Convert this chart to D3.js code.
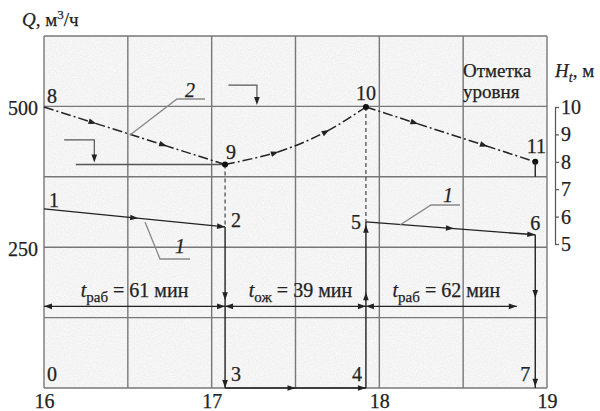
<!DOCTYPE html>
<html>
<head>
<meta charset="utf-8">
<script src="https://cdn.jsdelivr.net/npm/d3@7"></script>
<style>
  body { margin: 0; background: #fff; }
  svg text { font-family: "Liberation Serif", "Times New Roman", "DejaVu Serif", serif !important; font-size: 20px; fill: #222; stroke: #222; stroke-width: 0.25; }
  .grid line { stroke: #777; stroke-width: 1.4; }
  .axis path, .axis line { stroke: #555; stroke-width: 1.2; }
  .axis text { font-size: 20px; fill: #222; }
</style>
</head>
<body>
<svg id="chart" width="600" height="411" font-family="Liberation Serif, serif"></svg>
<script>
// tick labels
var xTicks = [16, 17, 18, 19];
var qTicks = [250, 500];
var hTicks = [5, 6, 7, 8, 9, 10];

// pump working periods, flow Q (m3/h) -- line 1
var work1Time = [16, 17.08];
var work1Q = [318, 286];
var work2Time = [17.92, 18.93];
var work2Q = [295, 272];

// level in the tank H (m) -- line 2
var levelTime = [16, 17.08, 17.4, 17.68, 17.92, 18.93];
var levelH = [10, 7.9, 8.37, 9.09, 10, 8.0];

// periods under the chart
var periodSub = ["раб", "ож", "раб"];
var periodMin = [61, 39, 62];
var periodFrom = [16, 17.08, 17.92];
var periodTo = [17.08, 17.92, 18.82];

// set the dimensions
var svg = d3.select("svg#chart");
var x = d3.scaleLinear().domain([16, 19]).range([44, 547]);
var yQ = d3.scaleLinear().domain([0, 625]).range([388, 36]);
var yH = d3.scaleLinear().domain([5, 10]).range([244, 107]);

// grainy paper background
var defs = svg.append("defs");
var f = defs.append("filter").attr("id", "grain")
  .attr("x", 0).attr("y", 0).attr("width", 1).attr("height", 1);
f.append("feTurbulence").attr("type", "fractalNoise")
  .attr("baseFrequency", 0.85).attr("numOctaves", 2).attr("seed", 4);
f.append("feColorMatrix").attr("type", "saturate").attr("values", 0);
var ct = f.append("feComponentTransfer");
["feFuncR", "feFuncG", "feFuncB"].forEach(function (n) {
  ct.append(n).attr("type", "linear").attr("slope", 0.22).attr("intercept", 0.8);
});
ct.append("feFuncA").attr("type", "linear").attr("slope", 0).attr("intercept", 1);

svg.append("rect")
  .attr("x", x(16)).attr("y", yQ(625))
  .attr("width", x(19) - x(16)).attr("height", yQ(0) - yQ(625))
  .attr("fill", "#e6e6e6");
svg.append("rect")
  .attr("x", x(16)).attr("y", yQ(625))
  .attr("width", x(19) - x(16)).attr("height", yQ(0) - yQ(625))
  .attr("filter", "url(#grain)");

// grid
var grid = svg.append("g").attr("class", "grid");
grid.selectAll(".v").data(d3.range(16, 19.01, 0.5)).enter().append("line")
  .attr("x1", function (d) { return x(d); }).attr("x2", function (d) { return x(d); })
  .attr("y1", yQ(0)).attr("y2", yQ(625));
grid.selectAll(".h").data(d3.range(0, 626, 125)).enter().append("line")
  .attr("x1", x(16)).attr("x2", x(19))
  .attr("y1", function (d) { return yQ(d); }).attr("y2", function (d) { return yQ(d); });

// axes
var ax = svg.append("g").attr("class", "axis")
  .attr("transform", "translate(0," + yQ(0) + ")")
  .call(d3.axisBottom(x).tickValues(xTicks).tickSize(0).tickPadding(6).tickFormat(d3.format("d")));
ax.select(".domain").remove();

var ay = svg.append("g").attr("class", "axis")
  .attr("transform", "translate(" + x(16) + ",0)")
  .call(d3.axisLeft(yQ).tickValues(qTicks).tickSize(0).tickPadding(6));
ay.select(".domain").remove();
ay.selectAll("text").attr("dy", "0.4em");

svg.append("g").attr("class", "axis")
  .attr("transform", "translate(555,0)")
  .call(d3.axisRight(yH).tickValues(hTicks).tickSize(4).tickSizeOuter(4).tickPadding(2)
    .tickFormat(d3.format("d")));

svg.selectAll(".axis").attr("font-family", null).attr("font-size", null);

// axis titles
var qt = svg.append("text").attr("x", 22).attr("y", 26).style("font-size", "19px");
qt.append("tspan").style("font-style", "italic").text("Q");
qt.append("tspan").text(", м");
qt.append("tspan").attr("dy", -7).style("font-size", "13px").text("3");
qt.append("tspan").attr("dy", 7).text("/ч");

var ht = svg.append("text").attr("x", 555).attr("y", 77).style("font-size", "19px");
ht.append("tspan").style("font-style", "italic").text("H");
ht.append("tspan").attr("dy", 5).style("font-style", "italic").style("font-size", "14px").text("t");
ht.append("tspan").attr("dy", -5).text(", м");

svg.append("text").attr("x", 463).attr("y", 77).style("font-size", "19px").text("Отметка");
svg.append("text").attr("x", 463).attr("y", 98).style("font-size", "19px").text("уровня");

// arrow head helper
function arrowHead(px, py, ang) {
  svg.append("path")
    .attr("d", "M0,0L-8,-2.8L-8,2.8Z")
    .attr("fill", "#222")
    .attr("transform", "translate(" + px + "," + py + ") rotate(" + ang + ")");
}
function arrowsOnPath(node, fracs) {
  var L = node.getTotalLength();
  fracs.forEach(function (fr) {
    var p = node.getPointAtLength(L * fr);
    var q = node.getPointAtLength(Math.max(0, L * fr - 2));
    arrowHead(p.x, p.y, Math.atan2(p.y - q.y, p.x - q.x) * 180 / Math.PI);
  });
}

// min / max level markers
svg.append("line")
  .attr("x1", x(16.19)).attr("x2", x(17.08))
  .attr("y1", yH(7.9)).attr("y2", yH(7.9))
  .attr("stroke", "#555").attr("stroke-width", 1.4);
svg.append("path")
  .attr("d", "M" + x(16.12) + "," + yH(8.8) + "H" + x(16.3) + "V" + (yH(7.9) - 5))
  .attr("fill", "none").attr("stroke", "#555").attr("stroke-width", 1.2);
arrowHead(x(16.3), yH(7.9) - 2, 90);
svg.append("path")
  .attr("d", "M" + x(17.1) + "," + yH(10.8) + "H" + x(17.27) + "V" + (yH(10) - 5))
  .attr("fill", "none").attr("stroke", "#555").attr("stroke-width", 1.2);
arrowHead(x(17.27), yH(10) - 2, 90);

// vertical connectors (dashed)
[[1, work1Q[1]], [4, work2Q[0]]].forEach(function (p) {
  svg.append("line")
    .attr("x1", x(levelTime[p[0]])).attr("x2", x(levelTime[p[0]]))
    .attr("y1", yH(levelH[p[0]])).attr("y2", yQ(p[1]))
    .attr("stroke", "#444").attr("stroke-width", 1.2).attr("stroke-dasharray", "4,3");
});

// solid verticals: 2-3, 4-5, 6-7 and bottom 3-4
function solidLine(x1, y1, x2, y2) {
  svg.append("line").attr("x1", x1).attr("y1", y1).attr("x2", x2).attr("y2", y2)
    .attr("stroke", "#222").attr("stroke-width", 1.4);
}
solidLine(x(work1Time[1]), yQ(work1Q[1]), x(work1Time[1]), yQ(0));
solidLine(x(work2Time[0]), yQ(0), x(work2Time[0]), yQ(work2Q[0]));
solidLine(x(work2Time[1]), yQ(work2Q[1]), x(work2Time[1]), yQ(0));
solidLine(x(work1Time[1]), yQ(0), x(work2Time[0]), yQ(0));
arrowHead(x(work1Time[1]), yQ(156), 90);
arrowHead(x(work1Time[1]), yQ(0), 90);
arrowHead(x(work2Time[0]), yQ(170), -90);
arrowHead(x(work2Time[0]), yQ(290), -90);
arrowHead(x(work2Time[1]), yQ(160), 90);
arrowHead(x(work2Time[1]), yQ(2), 90);
arrowHead(x(17.5), yQ(0), 0);
arrowHead(x(work2Time[0]), yQ(0), 0);

// line 1: flow
var qLine = d3.line()
  .x(function (d) { return x(d[0]); })
  .y(function (d) { return yQ(d[1]); });
[d3.zip(work1Time, work1Q), d3.zip(work2Time, work2Q)].forEach(function (seg) {
  var p = svg.append("path").attr("d", qLine(seg))
    .attr("fill", "none").attr("stroke", "#222").attr("stroke-width", 1.4);
  arrowsOnPath(p.node(), [0.52, 1]);
});

// line 2: level (dash-dot)
var hPts = d3.zip(levelTime, levelH);
var hLine = d3.line()
  .x(function (d) { return x(d[0]); })
  .y(function (d) { return yH(d[1]); });
var hSegs = [
  { pts: hPts.slice(0, 2), curve: d3.curveLinear, fr: [0.29, 0.68] },
  { pts: hPts.slice(1, 5), curve: d3.curveCatmullRom, fr: [0.36, 0.72] },
  { pts: hPts.slice(4, 6), curve: d3.curveLinear, fr: [0.31, 0.72] }
];
hSegs.forEach(function (s) {
  var p = svg.append("path").attr("d", hLine.curve(s.curve)(s.pts))
    .attr("fill", "none").attr("stroke", "#222").attr("stroke-width", 1.5)
    .attr("stroke-dasharray", "10,3,2,3");
  arrowsOnPath(p.node(), s.fr);
});
svg.selectAll(".dot").data([hPts[1], hPts[4], hPts[5]]).enter().append("circle")
  .attr("cx", function (d) { return x(d[0]); })
  .attr("cy", function (d) { return yH(d[1]); })
  .attr("r", 3).attr("fill", "#111");
// stub under point 11
solidLine(x(levelTime[5]), yH(levelH[5]), x(levelTime[5]), yQ(375));

// period dimension line
var dimY = yQ(145);
periodFrom.forEach(function (f0, i) {
  var x0 = x(f0), x1 = x(periodTo[i]);
  solidLine(x0, dimY, x1, dimY);
  arrowHead(x0, dimY, 180);
  arrowHead(x1, dimY, 0);
  var t = svg.append("text").attr("x", (x0 + x1) / 2 + (i ? 5 : 0)).attr("y", 297)
    .attr("text-anchor", "middle");
  t.append("tspan").style("font-style", "italic").text("t");
  t.append("tspan").attr("dy", 5).style("font-size", "15px").text(periodSub[i]);
  t.append("tspan").attr("dy", -5).text(" = " + periodMin[i] + " мин");
});

// leader callouts
function leader(pts, label, lx, ly) {
  svg.append("path").attr("d", d3.line()(pts))
    .attr("fill", "none").attr("stroke", "#888").attr("stroke-width", 1.3);
  svg.append("text").attr("x", lx).attr("y", ly)
    .style("font-style", "italic").text(label);
}
leader([[130, 135], [177, 99], [205, 99]], "2", 185, 97);
leader([[145, 222], [160, 259], [190, 259]], "1", 175, 253);
leader([[400, 225], [431, 205], [460, 205]], "1", 443, 202);

// point numbers
var ptLabels = [
  { n: "0", x: x(16) + 3, y: yQ(0) - 7, a: "start" },
  { n: "1", x: x(16) + 5, y: yQ(work1Q[0]) - 2, a: "start" },
  { n: "2", x: x(work1Time[1]) + 6, y: yQ(work1Q[1]), a: "start" },
  { n: "3", x: x(work1Time[1]) + 6, y: yQ(0) - 7, a: "start" },
  { n: "4", x: x(work2Time[0]) - 4, y: yQ(0) - 7, a: "end" },
  { n: "5", x: x(work2Time[0]) - 5, y: yQ(work2Q[0]) + 7, a: "end" },
  { n: "6", x: x(work2Time[1]), y: yQ(work2Q[1]) - 5, a: "middle" },
  { n: "7", x: x(work2Time[1]) - 5, y: yQ(0) - 7, a: "end" },
  { n: "8", x: x(16) + 3, y: yH(levelH[0]) - 4, a: "start" },
  { n: "9", x: x(levelTime[1]) + 6, y: yH(levelH[1]) - 6, a: "middle" },
  { n: "10", x: x(levelTime[4]), y: yH(levelH[4]) - 7, a: "middle" },
  { n: "11", x: x(levelTime[5]) + 1, y: yH(levelH[5]) - 9, a: "middle" }
];
svg.selectAll(".pl").data(ptLabels).enter().append("text")
  .attr("x", function (d) { return d.x; })
  .attr("y", function (d) { return d.y; })
  .attr("text-anchor", function (d) { return d.a; })
  .text(function (d) { return d.n; });
</script>
</body>
</html>
